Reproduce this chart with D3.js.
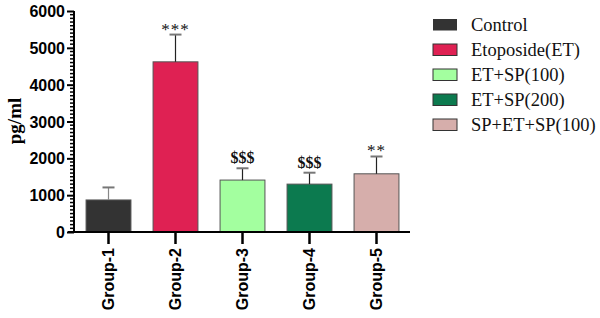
<!DOCTYPE html>
<html><head><meta charset="utf-8">
<script src="https://cdn.jsdelivr.net/npm/d3@7"></script>
<style>body{margin:0;background:#fff}svg{display:block}</style>
</head><body>
<svg id="c" width="600" height="318"></svg>
<script>
const groups = ["Group-1","Group-2","Group-3","Group-4","Group-5"];
const seriesNames = ["Control","Etoposide(ET)","ET+SP(100)","ET+SP(200)","SP+ET+SP(100)"];
const means = [870, 4620, 1410, 1300, 1580];
const errors = [340, 740, 320, 310, 470];
const marks = ["", "***", "$$$", "$$$", "**"];
const colors = ["#333333","#df2153","#a3ff9f","#0c7a4f","#d6aeab"];
const yTicks = [0,1000,2000,3000,4000,5000,6000];

const svg = d3.select("#c");
const x = d3.scaleBand().domain(groups).range([75,410]).paddingInner(0.33).paddingOuter(0.165);
const y = d3.scaleLinear().domain([0,6000]).range([232,11]);

// bars
svg.selectAll("rect.bar").data(groups).enter().append("rect")
  .attr("x", d=>x(d)).attr("width", x.bandwidth())
  .attr("y", (d,i)=>y(means[i])).attr("height",(d,i)=>y(0)-y(means[i]))
  .attr("fill",(d,i)=>colors[i]).attr("stroke","#555").attr("stroke-width",1);

// error bars
const eb = svg.selectAll("g.eb").data(groups).enter().append("g");
eb.append("line").attr("x1",d=>x(d)+x.bandwidth()/2).attr("x2",d=>x(d)+x.bandwidth()/2)
  .attr("y1",(d,i)=>y(means[i])).attr("y2",(d,i)=>y(means[i]+errors[i]))
  .attr("stroke",(d,i)=>i===0?"#888":"#222").attr("stroke-width",1.2);
eb.append("line").attr("x1",d=>x(d)+x.bandwidth()/2-6).attr("x2",d=>x(d)+x.bandwidth()/2+6)
  .attr("y1",(d,i)=>y(means[i]+errors[i])).attr("y2",(d,i)=>y(means[i]+errors[i]))
  .attr("stroke","#777").attr("stroke-width",2);

// significance marks
svg.selectAll("text.mk").data(groups).enter().append("text")
  .attr("x",d=>x(d)+x.bandwidth()/2)
  .attr("y",(d,i)=>y(means[i]+errors[i]) - (marks[i].startsWith("$")?5:0))
  .attr("text-anchor","middle")
  .attr("font-family","Liberation Serif, Times New Roman, serif")
  .attr("font-size",(d,i)=>marks[i].startsWith("$")?16:17)
  .attr("font-weight",(d,i)=>marks[i].startsWith("$")?"bold":"normal")
  .attr("letter-spacing",(d,i)=>marks[i].startsWith("*")?1:0)
  .attr("fill","#111")
  .text((d,i)=>marks[i]);

// y axis
const yAxisG = svg.append("g").attr("transform","translate(74,0)");
const minor = d3.range(0,6001,100).filter(v=>v%1000!==0);
yAxisG.selectAll("line.minor").data(minor).enter().append("line")
  .attr("x1",-4).attr("x2",0).attr("y1",d=>y(d)).attr("y2",d=>y(d))
  .attr("stroke","#000").attr("stroke-width",1.5);
const yAxis = d3.axisLeft(y).tickValues(yTicks).tickSize(7).tickPadding(2).tickFormat(d3.format("d"));
yAxisG.call(yAxis);
yAxisG.select(".domain").remove();
yAxisG.append("line").attr("x1",0).attr("x2",0).attr("y1",y(6000)).attr("y2",y(0)+1).attr("stroke","#000").attr("stroke-width",2);
yAxisG.selectAll(".tick line").attr("stroke","#000").attr("stroke-width",2);
yAxisG.selectAll(".tick text").attr("font-family","Liberation Sans, Arial, sans-serif")
  .attr("font-weight","bold").attr("font-size",16).attr("fill","#000").attr("dy","0.35em");

// x axis
const xAxisG = svg.append("g").attr("transform","translate(0,232)");
const xAxis = d3.axisBottom(x).tickSize(12).tickPadding(4);
xAxisG.call(xAxis);
xAxisG.select(".domain").remove();
xAxisG.append("line").attr("x1",68).attr("x2",410).attr("y1",0).attr("y2",0).attr("stroke","#000").attr("stroke-width",2);
xAxisG.selectAll(".tick line").attr("stroke","#000").attr("stroke-width",2.5);
xAxisG.selectAll(".tick text")
  .attr("font-family","Liberation Sans, Arial, sans-serif").attr("font-weight","bold")
  .attr("font-size",16).attr("fill","#000")
  .attr("transform","rotate(-90)").attr("text-anchor","end")
  .attr("x",-16).attr("y",0).attr("dy","0.35em");

// y label
svg.append("text").attr("transform","translate(21,121) rotate(-90)")
  .attr("text-anchor","middle").attr("font-family","Liberation Serif, Times New Roman, serif")
  .attr("font-weight","bold").attr("font-size",19).attr("fill","#000").text("pg/ml");

// legend
const lg = svg.selectAll("g.lg").data(seriesNames).enter().append("g")
  .attr("transform",(d,i)=>`translate(433,${19+i*25})`);
lg.append("rect").attr("width",24).attr("height",11.5).attr("fill",(d,i)=>colors[i])
  .attr("stroke",(d,i)=>i===0?"none":"#333").attr("stroke-width",1);
lg.append("text").attr("x",38).attr("y",6).attr("dy","0.35em")
  .attr("font-family","Liberation Serif, Times New Roman, serif").attr("font-size",18.5)
  .attr("fill","#111").text(d=>d);
</script>
</body></html>
